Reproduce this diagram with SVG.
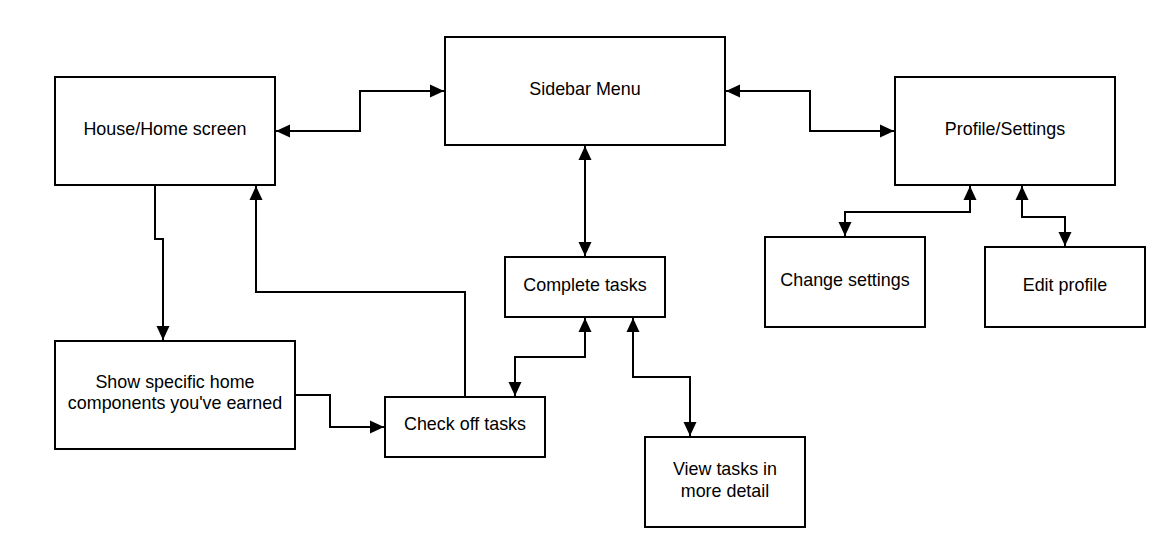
<svg xmlns="http://www.w3.org/2000/svg" width="1174" height="543" viewBox="0 0 1174 543">
<style>
.box{fill:#fff;stroke:#000;stroke-width:2}
.lbl{font-family:"Liberation Sans",Arial,sans-serif;font-size:17.9px;fill:#000;text-anchor:middle}
.c{fill:none;stroke:#000;stroke-width:2}
</style>
<defs>
<marker id="ah" markerUnits="userSpaceOnUse" markerWidth="16" markerHeight="16" viewBox="0 0 16 16" refX="14" refY="8" orient="auto-start-reverse">
<path d="M0,1.5 L14,8 L0,14.5 Z" fill="#000"/>
</marker>
</defs>
<rect width="1174" height="543" fill="#fff"/>
<g id="connectors">
<path class="c" d="M276,131 H360 V91 H444" marker-start="url(#ah)" marker-end="url(#ah)"/>
<path class="c" d="M726,91 H810 V131 H894" marker-start="url(#ah)" marker-end="url(#ah)"/>
<path class="c" d="M585,146 V256" marker-start="url(#ah)" marker-end="url(#ah)"/>
<path class="c" d="M155,186 V239 H163 V340" marker-end="url(#ah)"/>
<path class="c" d="M465,397 V292 H256 V186" marker-end="url(#ah)"/>
<path class="c" d="M296,395 H330 V427 H384" marker-end="url(#ah)"/>
<path class="c" d="M585,318 V357 H515 V396" marker-start="url(#ah)" marker-end="url(#ah)"/>
<path class="c" d="M633,318 V377 H690 V436" marker-start="url(#ah)" marker-end="url(#ah)"/>
<path class="c" d="M970,186 V212 H845 V236" marker-start="url(#ah)" marker-end="url(#ah)"/>
<path class="c" d="M1022,186 V217 H1065 V246" marker-start="url(#ah)" marker-end="url(#ah)"/>
</g>
<g id="house"><rect class="box" x="55" y="77" width="220" height="108"/><text class="lbl" x="165" y="135">House/Home screen</text></g>
<g id="sidebar"><rect class="box" x="445" y="37" width="280" height="108"/><text class="lbl" x="585" y="94.5">Sidebar Menu</text></g>
<g id="profile"><rect class="box" x="895" y="77" width="220" height="108"/><text class="lbl" x="1005" y="135">Profile/Settings</text></g>
<g id="complete"><rect class="box" x="505" y="257" width="160" height="60"/><text class="lbl" x="585" y="291">Complete tasks</text></g>
<g id="change"><rect class="box" x="765" y="237" width="160" height="90"/><text class="lbl" x="845" y="285.5">Change settings</text></g>
<g id="edit"><rect class="box" x="985" y="247" width="160" height="80"/><text class="lbl" x="1065" y="291">Edit profile</text></g>
<g id="show"><rect class="box" x="55" y="341" width="240" height="108"/><text class="lbl" x="175" y="387.7">Show specific home</text><text class="lbl" x="175" y="409.3">components you've earned</text></g>
<g id="check"><rect class="box" x="385" y="397" width="160" height="60"/><text class="lbl" x="465" y="430">Check off tasks</text></g>
<g id="view"><rect class="box" x="645" y="437" width="160" height="90"/><text class="lbl" x="725" y="475">View tasks in</text><text class="lbl" x="725" y="496.5">more detail</text></g>
</svg>
